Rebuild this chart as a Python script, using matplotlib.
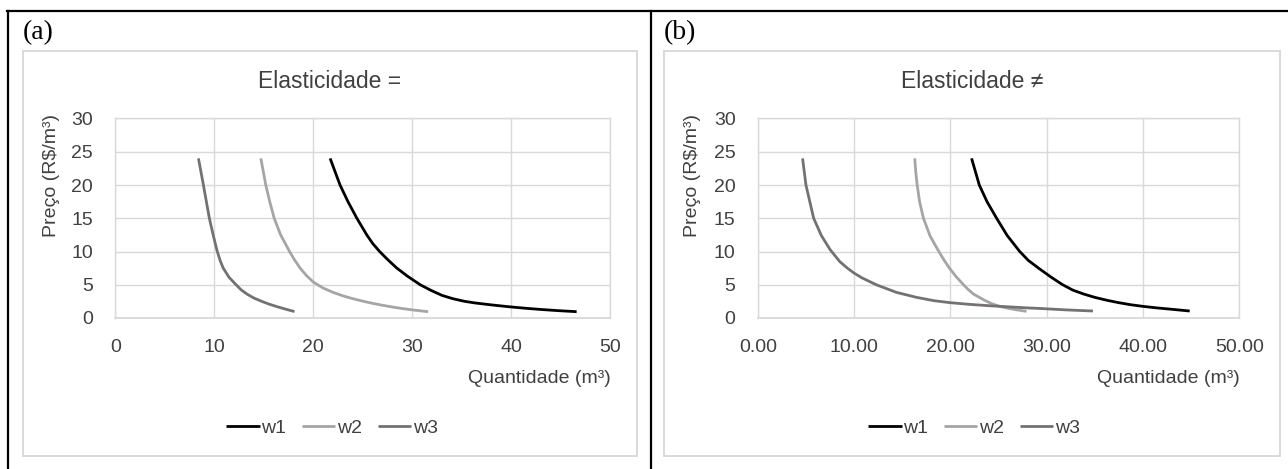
import matplotlib
matplotlib.use('Agg')
import matplotlib.pyplot as plt
from matplotlib.lines import Line2D
from matplotlib.patches import Rectangle

plt.rcParams['font.family'] = ['Liberation Sans', 'DejaVu Sans']

# Panel (a) - Elasticidade =   quantity (m3) and price
a_w1_q = [21.7, 22.2, 22.7, 23.5, 24.4, 25.4, 26.0, 26.7, 27.5, 28.4, 29.5, 30.8, 31.9,
          33.0, 34.1, 35.3, 36.4, 38.0, 39.7, 41.4, 43.1, 44.8, 46.6]
a_w1_p = [24, 22, 20, 17.5, 15, 12.5, 11.2, 10, 8.8, 7.55, 6.3, 5.0, 4.15,
          3.4, 2.9, 2.5, 2.25, 1.97, 1.7, 1.47, 1.27, 1.1, 0.95]
a_w2_q = [14.7, 14.95, 15.2, 15.6, 16.05, 16.7, 17.6, 18.1, 18.7, 19.3, 20.0, 21, 22, 23,
          24, 25, 26, 27, 28, 29, 30, 31, 31.6]
a_w2_p = [24, 22, 20, 17.5, 15, 12.5, 10, 8.75, 7.45, 6.4, 5.4, 4.5, 3.85, 3.33,
          2.9, 2.53, 2.2, 1.91, 1.65, 1.42, 1.22, 1.05, 0.95]
a_w3_q = [8.4, 8.65, 8.9, 9.2, 9.5, 9.9, 10.3, 10.6, 10.9, 11.5, 12.2, 12.7, 13.3, 14.0,
          14.8, 15.5, 16.3, 17.2, 18.1]
a_w3_p = [24, 22, 20, 17.5, 15, 12.4, 10, 8.6, 7.5, 6.1, 5.0, 4.25, 3.6, 3.0,
          2.5, 2.1, 1.72, 1.33, 0.97]

# Panel (b) - Elasticidade ≠
b_w1_q = [22.2, 22.6, 23.0, 23.8, 24.8, 25.9, 27.2, 28.1, 29.2, 30.4, 31.6, 32.7, 33.85,
          35.0, 36.3, 37.5, 38.7, 40.0, 41.3, 42.7, 44.85]
b_w1_p = [24, 22, 20, 17.5, 15, 12.4, 10, 8.65, 7.45, 6.2, 5.05, 4.2, 3.6,
          3.1, 2.65, 2.3, 2.0, 1.75, 1.54, 1.35, 1.05]
b_w2_q = [16.3, 16.4, 16.55, 16.8, 17.2, 17.9, 18.8, 19.3, 19.9, 20.6, 21.3, 21.8, 22.4,
          23.5, 24.3, 25.1, 26.0, 27.0, 27.9]
b_w2_p = [24, 22, 20, 17.5, 15, 12.3, 10, 8.8, 7.5, 6.2, 5.1, 4.35, 3.6,
          2.7, 2.15, 1.75, 1.45, 1.2, 1.0]
b_w3_q = [4.65, 5.0, 5.8, 6.6, 7.5, 8.5, 9.3, 10.0, 10.8, 12.3, 14.4, 16.5, 18.3, 20.0,
          22.0, 24.0, 26.0, 28.0, 29.75, 32.0, 34.8]
b_w3_p = [24, 20, 15, 12.4, 10.3, 8.5, 7.5, 6.75, 6.05, 5.0, 3.85, 3.1, 2.6, 2.3,
          2.05, 1.85, 1.68, 1.52, 1.4, 1.22, 1.05]

series_names = ['w1', 'w2', 'w3']
series_colors = ['#000000', '#A5A5A5', '#767171']

x_ticks = [0, 10, 20, 30, 40, 50]
a_xlabels = ['0', '10', '20', '30', '40', '50']
b_xlabels = ['0.00', '10.00', '20.00', '30.00', '40.00', '50.00']
y_ticks = [0, 5, 10, 15, 20, 25, 30]

W, H = 1288, 469
fig = plt.figure(figsize=(W / 100, H / 100), dpi=100)


def fx(x):
    return x / W


def fy(y):
    return 1 - y / H


grid_c = '#D9D9D9'
text_c = '#404040'
fs = 14


def make_panel(left_px, right_px, box_l, box_r, data, xlabels, title, tag):
    # chart area frame
    fig.patches.append(Rectangle((fx(box_l), fy(456)), fx(box_r - box_l), (456 - 51) / H,
                                 transform=fig.transFigure, fill=False,
                                 edgecolor=grid_c, lw=1.4))
    ax = fig.add_axes([fx(left_px), fy(318), fx(right_px - left_px), (318 - 118.5) / H])
    for (q, p), c, n in zip(data, series_colors, series_names):
        ax.plot(q, p, color=c, lw=2.0, label=n, solid_capstyle='butt')
    ax.set_xlim(0, 50)
    ax.set_ylim(0, 30)
    ax.set_xticks(x_ticks)
    ax.set_xticklabels(xlabels)
    ax.set_yticks(y_ticks)
    ax.tick_params(length=0, labelsize=fs, labelcolor=text_c)
    ax.tick_params(axis='y', pad=16)
    ax.tick_params(axis='x', pad=15)
    ax.grid(True, color=grid_c, lw=1.0)
    ax.set_axisbelow(True)
    for s in ax.spines.values():
        s.set_color(grid_c)
        s.set_linewidth(1.0)
    ax.spines['bottom'].set_linewidth(1.3)
    cx = (box_l + box_r) / 2
    fig.text(fx(cx), fy(82), title, ha='center', va='center', fontsize=16.5, color=text_c)
    fig.text(fx(box_l + 28.5), fy(114), 'Preço (R$/m³)', rotation=90, ha='center', va='top',
             fontsize=fs, color=text_c)
    fig.text(fx(right_px), fy(378), 'Quantidade (m³)', ha='right', va='center',
             fontsize=fs, color=text_c)
    h, l = ax.get_legend_handles_labels()
    fig.legend(h, l, loc='center', bbox_to_anchor=(fx(cx + 2), fy(428)), ncol=3,
               frameon=False, fontsize=fs, handlelength=1.7, handletextpad=0.1,
               columnspacing=0.8, labelcolor=text_c)
    fig.text(fx(box_l), fy(33), tag, ha='left', va='center', fontsize=20,
             family=['Liberation Serif', 'DejaVu Serif'], color='black')
    return ax


make_panel(115.3, 610.3, 22.7, 637.3,
           [(a_w1_q, a_w1_p), (a_w2_q, a_w2_p), (a_w3_q, a_w3_p)],
           a_xlabels, 'Elasticidade =', '(a)')
make_panel(757.8, 1239.3, 664, 1280,
           [(b_w1_q, b_w1_p), (b_w2_q, b_w2_p), (b_w3_q, b_w3_p)],
           b_xlabels, 'Elasticidade ≠', '(b)')

# table borders
fig.lines.append(Line2D([fx(7), fx(W)], [fy(11), fy(11)], transform=fig.transFigure,
                        color='black', lw=1.6))
fig.lines.append(Line2D([fx(7.5), fx(7.5)], [fy(11), fy(H)], transform=fig.transFigure,
                        color='black', lw=1.6))
fig.lines.append(Line2D([fx(650.5), fx(650.5)], [fy(11), fy(H)], transform=fig.transFigure,
                        color='black', lw=1.6))

fig.savefig('out.png', dpi=100)
